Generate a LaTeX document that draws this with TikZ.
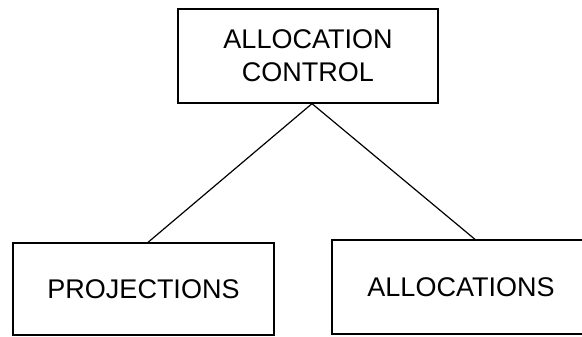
\documentclass[tikz,border=0pt]{standalone}
\usepackage{fontspec}
\setmainfont{Liberation Sans}
\tikzset{
  block/.style = {draw, line width=1.3pt, minimum width=260pt, minimum height=94pt,
    inner sep=0pt, align=center, font=\fontsize{27}{33}\selectfont}
}
\begin{document}
\begin{tikzpicture}[x=1pt, y=-1pt]
\useasboundingbox (0,0) rectangle (582,337);

\node [block] (control) at (308,56) {ALLOCATION\\CONTROL};
\node [block, minimum width=261pt, minimum height=92pt] (proj) at (143.5,289) {PROJECTIONS};
\node [block, minimum width=258pt] (alloc) at (461,287) {ALLOCATIONS};

\draw [line width=1.2pt] ([xshift=4pt]control.south) -- ([xshift=4.5pt]proj.north);
\draw [line width=1.2pt] ([xshift=4pt]control.south) -- ([xshift=14pt]alloc.north);
\end{tikzpicture}
\end{document}
